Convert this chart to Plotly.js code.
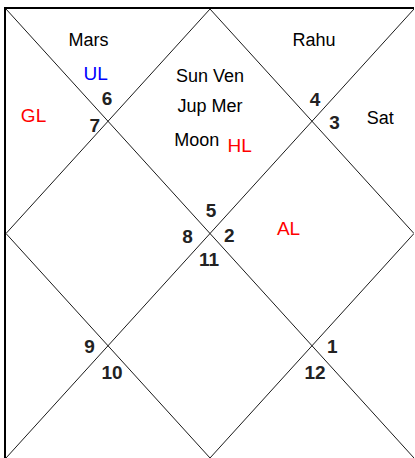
<!DOCTYPE html>
<html>
<head>
<meta charset="utf-8">
<script src="https://cdn.plot.ly/plotly-3.0.1.min.js"></script>
<style>html,body{margin:0;padding:0;background:#fff;}#chart{width:415px;height:458px;}</style>
</head>
<body>
<div id="chart"></div>
<script>
// Chart frame: diamond and two diagonals (null separates segments)
const frameX = [0, 2, 4, 2, 0, null, 0, 4, null, 0, 4];
const frameY = [2, 4, 2, 0, 2, null, 0, 4, null, 4, 0];

// House numbers
const houseLabels = ["6", "7", "4", "3", "5", "8", "2", "11", "9", "10", "1", "12"];
const houseX = [0.99, 0.87, 3.03, 3.22, 2.01, 1.78, 2.19, 1.99, 0.82, 1.04, 3.20, 3.03];
const houseY = [3.19, 2.95, 3.18, 2.97, 2.19, 1.96, 1.97, 1.75, 0.98, 0.75, 0.98, 0.75];

// Planets (black)
const planetLabels = ["Mars", "Sun Ven", "Jup Mer", "Moon", "Rahu", "Sat"];
const planetX = [0.81, 2.00, 2.00, 1.87, 3.02, 3.67];
const planetY = [3.71, 3.39, 3.12, 2.82, 3.71, 3.02];

// Special lagnas (coloured)
const lagnaLabels = ["UL", "GL", "HL", "AL"];
const lagnaX = [0.88, 0.27, 2.29, 2.77];
const lagnaY = [3.41, 3.04, 2.77, 2.03];
const lagnaColors = ["#0000ff", "#ff0000", "#ff0000", "#ff0000"];

const font = "Liberation Sans, Arial, sans-serif";

const traces = [
  {x: frameX, y: frameY, mode: "lines", line: {color: "#1a1a1a", width: 1}, hoverinfo: "skip", cliponaxis: false},
  {x: houseX, y: houseY, mode: "text", text: houseLabels, textfont: {family: font, size: 19, color: "#222222", weight: "bold"}, hoverinfo: "skip", cliponaxis: false},
  {x: planetX, y: planetY, mode: "text", text: planetLabels, textfont: {family: font, size: 18, color: "#000000"}, hoverinfo: "skip", cliponaxis: false},
  {x: lagnaX, y: lagnaY, mode: "text", text: lagnaLabels, textfont: {family: font, size: 19, color: lagnaColors}, hoverinfo: "skip", cliponaxis: false}
];

const layout = {
  width: 415, height: 458,
  margin: {l: 6, r: 1, t: 9, b: 0, pad: 0},
  paper_bgcolor: "#ffffff", plot_bgcolor: "#ffffff",
  showlegend: false,
  xaxis: {range: [0, 4], showgrid: false, zeroline: false, showticklabels: false, ticks: "", showline: true, side: "top", linecolor: "#000000", linewidth: 2, fixedrange: true},
  yaxis: {range: [0, 4], showgrid: false, zeroline: false, showticklabels: false, ticks: "", showline: true, side: "left", linecolor: "#000000", linewidth: 2, fixedrange: true}
};

Plotly.newPlot("chart", traces, layout, {staticPlot: true, displayModeBar: false});
</script>
</body>
</html>
